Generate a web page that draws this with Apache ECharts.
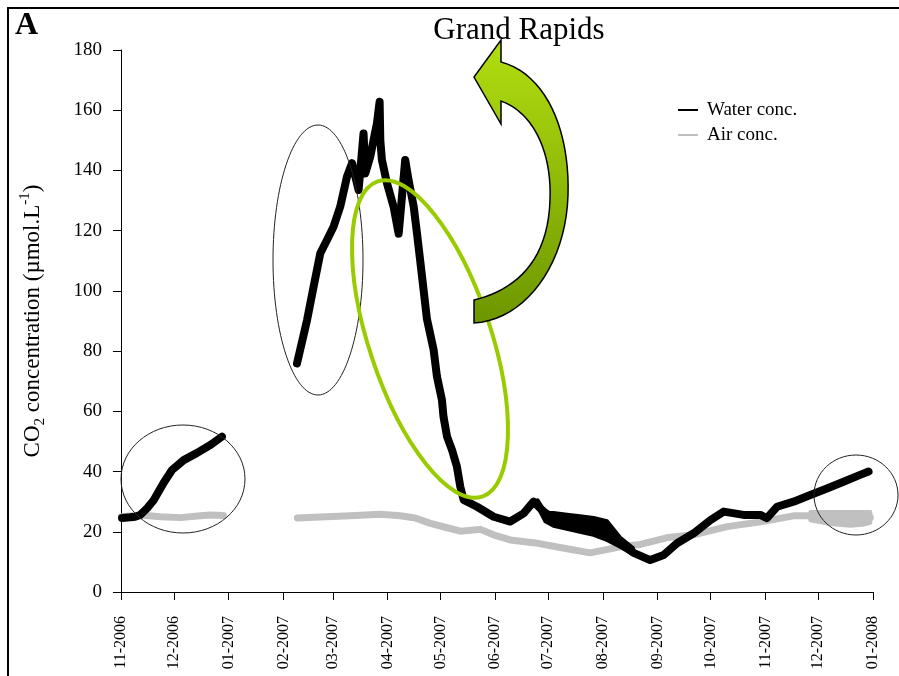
<!DOCTYPE html>
<html>
<head>
<meta charset="utf-8">
<script src="https://cdn.jsdelivr.net/npm/echarts@6/dist/echarts.min.js"></script>
<style>
html,body{margin:0;padding:0;background:#fff;}
#chart{width:899px;height:676px;}
</style>
</head>
<body>
<div id="chart"></div>
<script>
// Days since 2006-11-01 at each month start, and their tick labels
const monthStarts = [0, 30, 61, 92, 120, 151, 181, 212, 242, 273, 304, 334, 365, 395, 426];
const tickLabels = ['11-2006','12-2006','01-2007','02-2007','03-2007','04-2007','05-2007','06-2007','07-2007','08-2007','09-2007','10-2007','11-2007','12-2007','01-2008'];

// Water CO2 concentration (µmol/L), days since 2006-11-01
const waterDays = [
  0.6, 5.3, 8, 10.9, 14.9, 18.5, 24.1, 28.9, 35.5, 43.1, 50.6, 57.2,
  78,
  99.7, 105.4, 109.1, 112.9, 116.7, 120.4, 124.2, 128.0, 130.9, 134.6,
  137.4, 138.4, 141.2, 145.0, 146.5, 146.9, 147.8, 150.7, 154.4, 157.3,
  161.0, 162.9, 165.8, 167.7, 169.5, 173.3, 177.1, 179.0, 181.8, 182.7,
  184.7, 187.5, 190.3, 192.2, 194.1, 201.7, 211.1, 220.5, 228.1, 233.7,
  239.4, 245.1, 252.6, 260.2, 267.7, 275.3, 282.8, 290.4, 299.8, 307.4,
  315.0, 324.4, 333.9, 341.4, 352.7, 362.2, 365.9, 371.6, 381.0, 390.5,
  399.9, 409.3, 418.7, 423.5
];
const waterValues = [
  24.6, 24.8, 25.0, 25.6, 27.9, 30.5, 36.2, 40.5, 43.8, 46.2, 48.8, 51.6,
  null,
  75.9, 90.3, 101.4, 112.5, 116.9, 121.3, 128, 137.9, 142.4, 133.5,
  152.3, 139, 144.6, 155.7, 162.8, 150, 143.5, 135.7, 128, 119,
  143.5, 136.8, 128, 119, 110, 90.7, 80.4, 71.5, 63.8, 58.2,
  51.6, 47.2, 41.6, 35, 30.6, 28.3, 25, 23.4, 26.1, 30,
  26.7, 24.3, 23.4, 22.6, 21.7, 20, 16.5, 13, 10.6, 12.3,
  16.2, 19.5, 23.9, 26.7, 25.6, 25.6, 24.5, 28.3, 30, 32.2,
  34.4, 36.6, 38.9, 40
];
// Spread of the noisy water readings, Jul-Aug 2007 (lower / upper edge)
const waterSpreadDays = [236, 240.4, 245, 252.6, 260, 267.7, 275.3, 282.8, 290];
const waterSpreadLow  = [28.5, 23.5, 22, 21, 20, 19, 17.3, 15, 12.5];
const waterSpreadHigh = [30.5, 26.2, 26.2, 25.7, 25.2, 24.6, 23.5, 18, 14.6];

// Air CO2 concentration (µmol/L)
const airDays = [
  0.2, 10.9, 22.3, 33.6, 44.9, 50.6, 58.0,
  78,
  99.9, 112.9, 129.9, 146.9, 158.2, 166.7, 175.2, 183.7, 192.2, 203.6,
  211, 220.5, 234.7, 248.8, 265.8, 282.8, 294.2, 309, 324.2, 343.4,
  362.2, 381, 390.5, 401.8, 413.2, 420, 424.5
];
const airValues = [
  25, 25.6, 25, 24.7, 25.3, 25.6, 25.4,
  null,
  24.6, 24.9, 25.3, 25.8, 25.3, 24.6, 22.8, 21.5, 20.2, 20.8,
  19, 17.3, 16.3, 14.8, 13, 15, 15.8, 18, 19, 21.7,
  23.3, 25.3, 25.3, 24.7, 24.4, 24.5, 24.8
];
// Spread of the air readings, Dec 2007 (lower / upper edge)
const airSpreadDays = [390.5, 401.8, 413.2, 420, 424.5];
const airSpreadLow  = [23.8, 22.6, 22.0, 22.3, 23.0];
const airSpreadHigh = [26.6, 26.6, 26.6, 26.6, 26.6];

const FONT = 'Liberation Serif';
const pairs = (xs, ys) => xs.map((x, i) => [x, ys[i] === null ? '-' : ys[i]]);

// Annotation arrow outline: polygon built from cubic bezier segments
function cubic(p0, p1, p2, p3, n) {
  const out = [];
  for (let k = 1; k <= n; k++) {
    const t = k / n, u = 1 - t;
    out.push([
      u*u*u*p0[0] + 3*u*u*t*p1[0] + 3*u*t*t*p2[0] + t*t*t*p3[0],
      u*u*u*p0[1] + 3*u*u*t*p1[1] + 3*u*t*t*p2[1] + t*t*t*p3[1]
    ]);
  }
  return out;
}
const arrowPts = [[474, 300]]
  .concat(cubic([474,300],[515,290],[548,262],[550,200], 20))
  .concat(cubic([550,200],[552,150],[532,112],[501,101], 20))
  .concat([[501,124],[474,77],[501,40],[501,62]])
  .concat(cubic([501,62],[546,74],[570,130],[568,195], 20))
  .concat(cubic([568,195],[566,265],[525,320],[474,323], 20));

// Band (spread) drawn as a polygon through the axis scales
function bandSeries(name, xs, lo, hi, color, z) {
  return {
    name: name, type: 'custom', silent: true, z: z,
    data: [[xs[0], lo[0]]],
    encode: { x: 0, y: 1 },
    renderItem: (params, api) => {
      const top = xs.map((x, i) => api.coord([x, hi[i]]));
      const bot = xs.map((x, i) => api.coord([x, lo[i]])).reverse();
      return { type: 'polygon', shape: { points: top.concat(bot) },
               style: { fill: color, stroke: color, lineWidth: 4, lineJoin: 'round' } };
    }
  };
}

const chart = echarts.init(document.getElementById('chart'));
chart.setOption({
  animation: false,
  backgroundColor: '#fff',
  grid: { left: 121, right: 26, top: 50, bottom: 84 },
  legend: {
    data: ['Water conc.', 'Air conc.'],
    orient: 'vertical',
    left: 673, top: 95,
    icon: 'rect', itemWidth: 20, itemHeight: 2, itemGap: 5,
    textStyle: { fontFamily: FONT, fontSize: 19, color: '#000', lineHeight: 20, padding: [0, 0, 0, 4] }
  },
  xAxis: {
    type: 'value', min: 0, max: 426,
    axisLine: { lineStyle: { color: '#000', width: 1 } },
    axisTick: { show: true, customValues: monthStarts, length: 8, lineStyle: { color: '#000' } },
    axisLabel: {
      customValues: monthStarts,
      rotate: 90, margin: 24,
      fontFamily: FONT, fontSize: 16, color: '#000',
      formatter: v => { const i = monthStarts.indexOf(v); return i >= 0 ? tickLabels[i] : ''; }
    },
    splitLine: { show: false }
  },
  yAxis: {
    type: 'value', min: 0, max: 180, interval: 20,
    axisLine: { show: true, lineStyle: { color: '#000', width: 1 } },
    axisTick: { show: true, length: 8, lineStyle: { color: '#000' } },
    axisLabel: { fontFamily: FONT, fontSize: 19, color: '#000', margin: 19 },
    splitLine: { show: false },
    name: '{n|CO}{sub|2}{n| concentration (µmol.L}{sup|-1}{n|)}',
    nameLocation: 'middle', nameRotate: 90, nameGap: 73,
    nameTextStyle: {
      rich: {
        n: { fontFamily: FONT, fontSize: 23, color: '#000', lineHeight: 30 },
        sub: { fontFamily: FONT, fontSize: 15, color: '#000', lineHeight: 30, verticalAlign: 'bottom' },
        sup: { fontFamily: FONT, fontSize: 15, color: '#000', lineHeight: 30, verticalAlign: 'top' }
      }
    }
  },
  series: [
    bandSeries('airSpread', airSpreadDays, airSpreadLow, airSpreadHigh, '#c0c0c0', 1),
    {
      name: 'Air conc.', type: 'line', color: '#c0c0c0',
      data: pairs(airDays, airValues), showSymbol: false, connectNulls: false,
      lineStyle: { width: 7, color: '#c0c0c0', join: 'round', cap: 'round' }, z: 2
    },
    bandSeries('waterSpread', waterSpreadDays, waterSpreadLow, waterSpreadHigh, '#000', 3),
    {
      name: 'Water conc.', type: 'line', color: '#000',
      data: pairs(waterDays, waterValues), showSymbol: false, connectNulls: false,
      lineStyle: { width: 8, color: '#000', join: 'round', cap: 'round' }, z: 3
    }
  ],
  graphic: [
    { type: 'rect', shape: { x: 8, y: 8, width: 1000, height: 1000 }, style: { fill: 'none', stroke: '#000', lineWidth: 2 }, z: 100 },
    { type: 'text', x: 15, y: 26, style: { text: 'A', font: 'bold 32px "Liberation Serif"', fill: '#000', textVerticalAlign: 'middle' }, z: 100 },
    { type: 'text', x: 519, y: 31, style: { text: 'Grand Rapids', font: '31px "Liberation Serif"', fill: '#000', textAlign: 'center', textVerticalAlign: 'middle' }, z: 100 },
    { type: 'ellipse', shape: { cx: 183, cy: 479, rx: 62, ry: 54 }, style: { fill: 'none', stroke: '#222', lineWidth: 1 }, z: 100 },
    { type: 'ellipse', shape: { cx: 318, cy: 260, rx: 45, ry: 135 }, style: { fill: 'none', stroke: '#222', lineWidth: 1 }, z: 100 },
    { type: 'ellipse', shape: { cx: 856, cy: 495, rx: 42, ry: 40 }, style: { fill: 'none', stroke: '#222', lineWidth: 1 }, z: 100 },
    { type: 'ellipse', x: 430, y: 339, rotation: 0.32, shape: { cx: 0, cy: 0, rx: 61, ry: 166 }, style: { fill: 'none', stroke: '#99cc00', lineWidth: 4 }, z: 100 },
    {
      type: 'polygon', z: 101,
      shape: { points: arrowPts },
      style: {
        fill: { type: 'linear', x: 0, y: 0, x2: 0, y2: 1, colorStops: [ { offset: 0, color: '#b2de10' }, { offset: 1, color: '#6d9600' } ] },
        stroke: '#000', lineWidth: 1.5
      }
    }
  ]
});
</script>
</body>
</html>
